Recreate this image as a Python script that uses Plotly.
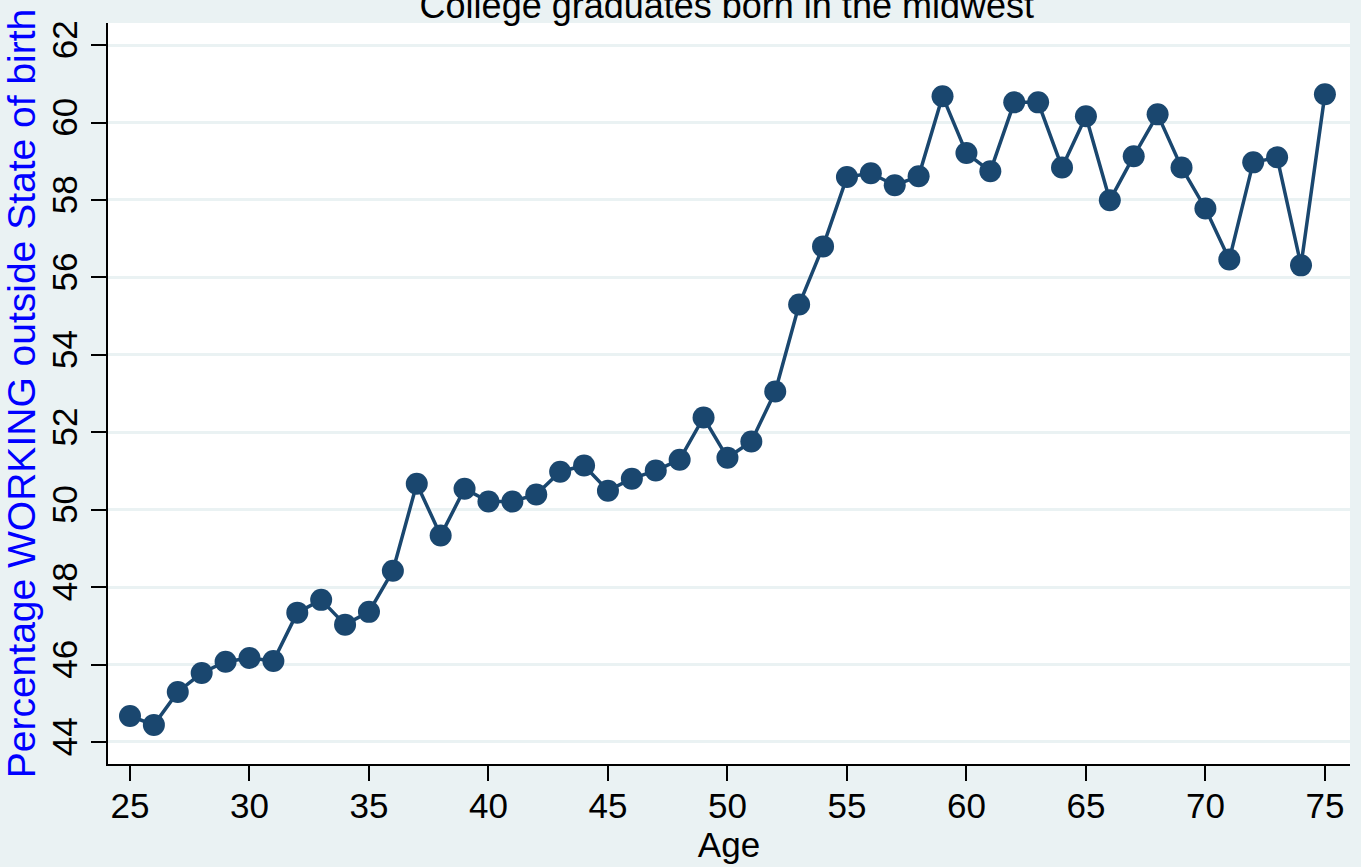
import plotly.graph_objects as go

ages = list(range(25, 76))
pct_working_outside = [
    44.67, 44.44, 45.29, 45.78, 46.07, 46.17, 46.09, 47.34, 47.67, 47.03,
    47.36, 48.42, 50.67, 49.33, 50.54, 50.21, 50.21, 50.39, 50.98, 51.14,
    50.49, 50.80, 51.01, 51.29, 52.38, 51.34, 51.76, 53.05, 55.30, 56.80,
    58.59, 58.69, 58.38, 58.61, 60.68, 59.21, 58.74, 60.52, 60.52, 58.84,
    60.16, 57.99, 59.13, 60.21, 58.84, 57.78, 56.46, 58.97, 59.10, 56.31,
    60.73,
]
x_ticks = [25, 30, 35, 40, 45, 50, 55, 60, 65, 70, 75]
y_ticks = [44, 46, 48, 50, 52, 54, 56, 58, 60, 62]

navy = "#1A476F"
bg = "#EAF2F3"
font_family = "Liberation Sans, Arial, sans-serif"

fig = go.Figure()
fig.add_trace(go.Scatter(
    x=ages, y=pct_working_outside, mode="lines+markers",
    line=dict(color=navy, width=3.5),
    marker=dict(color=navy, size=22),
    showlegend=False,
))

fig.update_layout(
    width=1361, height=867,
    paper_bgcolor=bg, plot_bgcolor="white",
    margin=dict(l=108, r=11, t=23, b=103, autoexpand=False),
    font=dict(family=font_family, color="black", size=35),
    title=dict(
        text="College graduates born in the midwest",
        x=0.534, xanchor="center",
        yref="container", y=1 - 18 / 867, yanchor="bottom",
        font=dict(size=36, color="black"),
    ),
    xaxis=dict(
        range=[24.08, 76.05], tickvals=x_ticks,
        showgrid=False, zeroline=False, automargin=False,
        showline=True, linecolor="black", linewidth=2,
        ticks="outside", ticklen=15, tickwidth=2, tickcolor="black",
        tickfont=dict(size=35), ticklabelstandoff=-5,
        title=dict(text="Age", font=dict(size=35), standoff=0),
    ),
    yaxis=dict(
        range=[43.43, 62.57], tickvals=y_ticks,
        showgrid=True, gridcolor=bg, gridwidth=3,
        zeroline=False, automargin=False,
        showline=True, linecolor="black", linewidth=2,
        ticks="outside", ticklen=15, tickwidth=2, tickcolor="black",
        tickangle=-90, tickfont=dict(size=35),
        title=dict(text="Percentage WORKING outside State of birth",
                   font=dict(size=39, color="#0000FF"), standoff=0),
    ),
)

fig.write_html(
    "out.html",
    config={"displayModeBar": False},
    post_script="document.body.style.margin='0';document.body.style.padding='0';",
)
